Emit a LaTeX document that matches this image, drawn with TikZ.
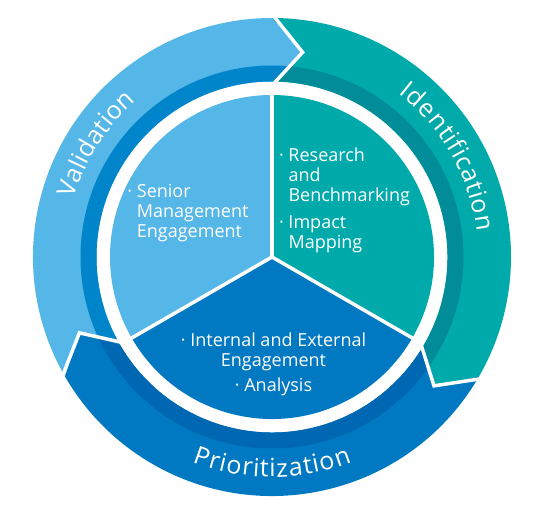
\documentclass[tikz,border=0pt]{standalone}
\usepackage{fontspec}
\setmainfont{Open Sans}
\usetikzlibrary{decorations.text}
\definecolor{ValLight}{HTML}{55B6E8}
\definecolor{ValDark}{HTML}{0085CA}
\definecolor{IdLight}{HTML}{00A9AA}
\definecolor{IdDark}{HTML}{008C98}
\definecolor{PriLight}{HTML}{0079C2}
\definecolor{PriDark}{HTML}{0067B2}
\tikzset{
  gapline/.style={draw=white,line width=3.5pt},
  itemtext/.style={text=white,font=\fontsize{18}{20}\selectfont,inner sep=0pt},
  arclabel/.style={decorate,decoration={text effects along path,text={#1},
    text effects/.cd,text along path,fit text to path,
    characters={text=white,anchor=base,inner sep=0pt,font=\fontsize{25}{25}\selectfont}}},
}
% one arrow of the outer ring, tail at angle #1, running 120 degrees clockwise
\newcommand\segpath[1]{({#1}:\Ro) arc[start angle=#1,end angle=#1-120,radius=\Ro]
  -- ({#1-120-\tipoff}:\Rt) -- ({#1-120}:\Ri) arc[start angle=#1-120,end angle=#1,radius=\Ri]
  -- ({#1-\tipoff}:\Rt) -- cycle}

\begin{document}
\begin{tikzpicture}[x=1pt,y=1pt]

% Geometry
\def\Rp{162}
\def\Ri{175.5}
\def\Rm{191.5}
\def\Ro{239}
\def\Rt{207}
\def\tipoff{8.5}
\useasboundingbox (-272,-253) rectangle (262,257);

% Outer arrows
\foreach \ang/\lite/\dark in {210/ValLight/ValDark,90/IdLight/IdDark,-30/PriLight/PriDark}{
  \fill[\lite] \segpath{\ang};
  \begin{scope}
    \clip \segpath{\ang};
    \fill[\dark,even odd rule] (0,0) circle[radius=\Rm] circle[radius=\Ri];
  \end{scope}
}
\foreach \b in {90,-30,210}{
  \draw[gapline] ({\b}:{\Ro+4}) -- ({\b-\tipoff}:\Rt) -- ({\b}:{\Ri-4});
}

% Pie
\foreach \a/\col in {90/ValLight,210/PriLight,330/IdLight}{
  \fill[\col] (0,0) -- (\a:\Rp) arc[start angle=\a,end angle=\a+120,radius=\Rp] -- cycle;
}
\foreach \a in {90,210,330}{
  \draw[gapline] (0,0) -- ({\a}:{\Rp+2});
}

% Arc labels
\path[arclabel=Validation] (163.5:206.5) arc[start angle=163.5,end angle=131.1,radius=206.5];
\path[arclabel=Identification] (52.2:206.5) arc[start angle=52.2,end angle=7,radius=206.5];
\path[arclabel=Prioritization] (-111.3:220) arc[start angle=-111.3,end angle=-68.7,radius=220];

% Items (base = last line)
\node[itemtext,anchor=base west,align=left] (senior) at (-135.3,19.7)
  {\leavevmode\llap{·\ }Senior\\Management\\Engagement};
\node[itemtext,anchor=base west,align=left] (research) at (16.3,8.7)
  {\leavevmode\llap{·\ }Research\\and\\Benchmarking\\[6.6pt]\leavevmode\llap{·\ }Impact\\Mapping};
\node[itemtext,anchor=base,align=center] (internal) at (1.5,-134.7)
  {·\ Internal and External\\Engagement\\[5pt]·\ Analysis};

\end{tikzpicture}
\end{document}
